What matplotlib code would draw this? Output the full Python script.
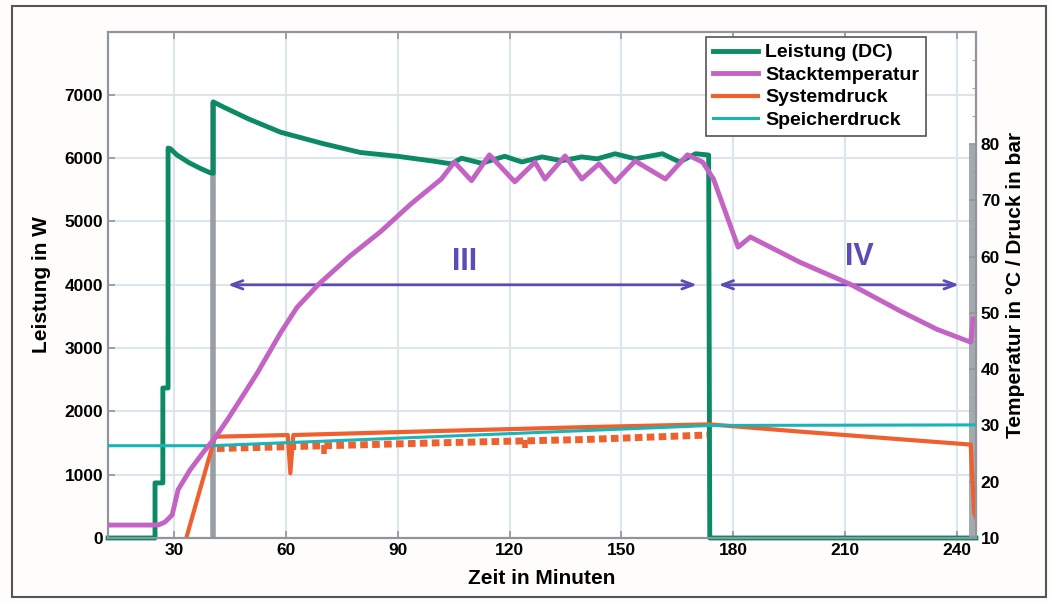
import matplotlib
matplotlib.use('Agg')
from matplotlib import pyplot as plt
from matplotlib.patches import Rectangle
from matplotlib.ticker import MultipleLocator

plt.rcParams['font.family'] = ['Liberation Sans', 'DejaVu Sans']
plt.rcParams['font.weight'] = 'bold'
plt.rcParams['lines.scale_dashes'] = False

# Leistung (DC) in W, left axis
p_t = [12.3, 24.9, 24.9, 27.0, 27.0, 28.4, 28.4, 29.0, 30.8, 34.0, 37.0, 39.7, 40.5,
       40.5, 43.2, 50.0, 58.6, 70.0, 80.0, 90.0, 100.0, 104.4, 107.1, 112.5, 118.7,
       123.3, 128.7, 134.0, 139.4, 143.5, 148.3, 153.7, 161.0, 165.6, 169.9, 173.4,
       173.7, 245.1]
p_w = [0, 0, 870, 870, 2370, 2370, 6160, 6150, 6050, 5930, 5840, 5770, 5760,
       6890, 6810, 6620, 6410, 6230, 6090, 6030, 5950, 5910, 6000, 5920, 6030,
       5940, 6020, 5960, 6020, 5990, 6070, 5990, 6070, 5940, 6070, 6050,
       0, 0]

# Stacktemperatur in degC, right axis
t_t = [12.3, 25.7, 27.5, 29.5, 31.1, 34.3, 37.8, 41.0, 44.3, 47.8, 52.4, 58.6, 63.0,
       68.8, 77.0, 85.5, 93.6, 101.7, 105.2, 109.8, 114.6, 121.4, 126.8, 129.5,
       134.9, 139.4, 144.0, 148.3, 153.7, 161.8, 167.7, 171.8, 174.7, 181.3, 184.6,
       197.9, 211.4, 224.9, 234.6, 243.7, 244.3]
t_c = [12.3, 12.3, 12.8, 14.1, 18.6, 22.1, 25.2, 27.8, 31.0, 34.6, 39.4, 46.5, 51.0,
       55.1, 60.0, 64.5, 69.4, 73.8, 76.8, 73.5, 78.1, 73.3, 76.8, 73.8,
       77.9, 73.8, 76.5, 73.3, 77.0, 73.8, 78.1, 76.8, 73.8, 61.7, 63.5,
       59.0, 55.1, 50.3, 47.1, 44.8, 48.9]

# Systemdruck in bar, right axis (upper trace and lower pulse band)
s_t = [32.0, 41.0, 60.5, 61.2, 62.0, 100.0, 140.0, 173.5, 200.0, 243.7, 244.6, 245.1]
s_b = [7.0, 28.0, 28.3, 21.5, 28.3, 29.0, 29.7, 30.2, 28.8, 26.6, 14.5, 13.7]
band_t = [41.5, 100.0, 140.0, 173.0]
band_b = [25.9, 26.9, 27.5, 28.3]
dip_t = [70.2, 124.2]
dip_b = [25.0, 26.0]

# Speicherdruck in bar, right axis
d_t = [12.3, 40.0, 174.0, 245.1]
d_b = [26.4, 26.4, 30.0, 30.1]

phases = ['III', 'IV']
phase_from = [43.7, 175.3]
phase_to = [171.0, 241.3]
phase_text_x = [107.9, 213.8]
phase_text_y = [4360, 4440]
arrow_y = 4000

green = '#0b8a63'
magenta = '#c463c4'
orange = '#f0602e'
cyan = '#17b4b8'
violet = '#5b4db8'
gray = '#8e959c'

fig = plt.figure(figsize=(10.51, 6.03), dpi=100, facecolor='#fffdfb')
ax = fig.add_axes([0.1028, 0.1078, 0.8258, 0.8398])
ax2 = ax.twinx()

ax.set_xlim(12.3, 245.1)
ax.set_ylim(0, 8000)
ax2.set_ylim(10, 100)

ax.set_xticks(range(30, 241, 30))
ax.set_yticks(range(0, 7001, 1000))
ax2.set_yticks(range(10, 81, 10))
ax2.yaxis.set_minor_locator(MultipleLocator(5))
ax.grid(True, color='#dce4ec', lw=1.5)
ax.set_axisbelow(True)

for a in (ax, ax2):
    for s in a.spines.values():
        s.set_color(gray)
        s.set_linewidth(1.5)
    a.tick_params(direction='in', color=gray, width=1.2, length=5, labelsize=12.5)
ax.tick_params(top=True)
ax2.tick_params(which='minor', direction='in', color=gray, length=3)

# gray markers
ax.vlines(40.5, 0, 6890, color=gray, lw=4, alpha=0.9, zorder=1)
ax2.vlines(244.0, 10, 80, color='#9aa0a6', lw=5, alpha=0.9, zorder=1)

l1, = ax.plot(p_t, p_w, color=green, lw=3.5, label='Leistung (DC)', clip_on=False, zorder=3)
l3, = ax2.plot(s_t, s_b, color=orange, lw=3, label='Systemdruck', zorder=2)
ax2.plot(band_t, band_b, color=orange, lw=5, dashes=(5.5, 3.1), zorder=2)
ax2.vlines(dip_t, dip_b, [b + 1.5 for b in dip_b], color=orange, lw=4, zorder=2)
l4, = ax2.plot(d_t, d_b, color=cyan, lw=2.2, label='Speicherdruck', zorder=3)
l2, = ax2.plot(t_t, t_c, color=magenta, lw=3.5, label='Stacktemperatur', zorder=4)

for name, x0, x1, tx, ty in zip(phases, phase_from, phase_to, phase_text_x, phase_text_y):
    ax.annotate('', xy=(x1, arrow_y), xytext=(x0, arrow_y),
                arrowprops=dict(arrowstyle='<->,head_length=0.8,head_width=0.3',
                                color=violet, lw=2))
    ax.text(tx, ty, name, color=violet, fontsize=22, fontweight='bold',
            ha='center', va='center')

ax.set_xlabel('Zeit in Minuten', fontsize=15, fontweight='bold', labelpad=8)
ax.set_ylabel('Leistung in W', fontsize=15, fontweight='bold', labelpad=10)
ax2.set_ylabel('Temperatur in °C / Druck in bar', fontsize=15, fontweight='bold', labelpad=4)

leg = ax2.legend(handles=[l1, l2, l3, l4], loc='upper left',
                 bbox_to_anchor=(706 / 1051, 1 - 37 / 603), bbox_transform=fig.transFigure,
                 borderaxespad=0, fontsize=14, handlelength=2.3, labelspacing=0.25,
                 borderpad=0.35, handletextpad=0.4, fancybox=False, framealpha=1,
                 edgecolor='#555555')
leg.get_frame().set_linewidth(1.2)

fig.patches.append(Rectangle((12 / 1051, 1 - 597 / 603), 1034 / 1051, 591 / 603,
                             transform=fig.transFigure, fill=False,
                             edgecolor='#555555', lw=1.5))

fig.savefig('out.png', dpi=100, facecolor=fig.get_facecolor())
